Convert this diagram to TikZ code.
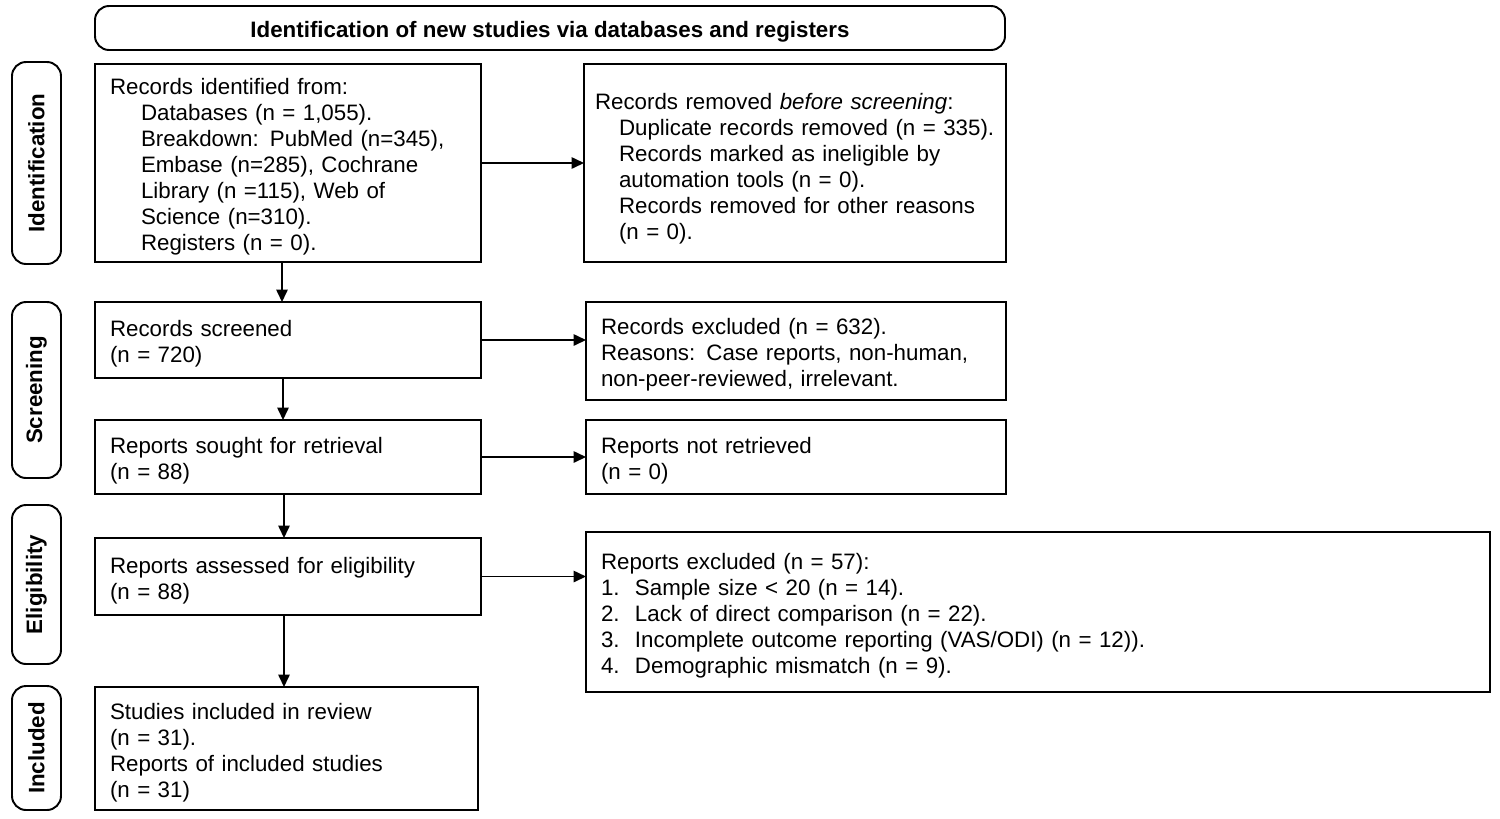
\documentclass[tikz,border=0pt]{standalone}
\usepackage{fontspec}
\setmainfont{Liberation Sans}
\usetikzlibrary{arrows.meta}

\begin{document}
\begin{tikzpicture}[font=\fontsize{12.7}{14.8}\selectfont,
      box/.style={draw, line width=1.1pt, align=left, inner xsep=0.3cm,
                  inner ysep=0pt, outer sep=0pt,
                  execute at begin node={\rule{0pt}{0.49cm}}},
      phase/.style={draw, line width=1.1pt, rounded corners=8pt, rotate=90,
                  minimum height=0.98cm, inner sep=0pt,
                  font=\fontsize{12.7}{14.8}\selectfont\bfseries},
      arr/.style={-{Triangle[length=0.25cm, width=0.23cm]}, line width=0.9pt}]
  \useasboundingbox (0,0) rectangle (30,-16.36);
  % header
  \node[draw, line width=1.1pt, rounded corners=8pt, minimum width=18.2cm,
        minimum height=0.88cm, text height=0.44cm, text depth=0.08cm,
        font=\fontsize{12.7}{14.8}\selectfont\bfseries]
    (head) at (11.0,-0.56) {Identification of new studies via databases and registers};
  % phases
  \node[phase, minimum width=4.04cm] (ph-id)  at (0.73,-3.26)  {Identification};
  \node[phase, minimum width=3.52cm] (ph-scr) at (0.73,-7.80)  {Screening};
  \node[phase, minimum width=3.18cm] (ph-eli) at (0.73,-11.69) {Eligibility};
  \node[phase, minimum width=2.48cm] (ph-inc) at (0.73,-14.96) {Included};
  % main column
  \node[box, text width=7.12cm, minimum height=3.96cm] (recid) at (5.76,-3.26)
    {Records identified from:\\
     \hspace*{0.62cm}Databases (n = 1,055).\\
     \hspace*{0.62cm}Breakdown: PubMed (n=345),\\
     \hspace*{0.62cm}Embase (n=285), Cochrane\\
     \hspace*{0.62cm}Library (n =115), Web of\\
     \hspace*{0.62cm}Science (n=310).\\
     \hspace*{0.62cm}Registers (n = 0).};
  \node[box, text width=7.12cm, minimum height=1.52cm] (screened) at (5.76,-6.80)
    {Records screened\\(n = 720)};
  \node[box, text width=7.12cm, minimum height=1.48cm] (sought) at (5.76,-9.14)
    {Reports sought for retrieval\\(n = 88)};
  \node[box, text width=7.12cm, minimum height=1.54cm] (assessed) at (5.76,-11.53)
    {Reports assessed for eligibility\\(n = 88)};
  \node[box, text width=7.06cm, minimum height=2.46cm] (included) at (5.73,-14.97)
    {Studies included in review\\(n = 31).\\Reports of included studies\\(n = 31)};
  % side column
  \node[box, inner xsep=0.22cm, text width=8.0cm, minimum height=3.96cm,
        execute at begin node={\rule{0pt}{0.57cm}}] (removed) at (15.9,-3.26)
    {Records removed \textit{before screening}:\\
     \hspace*{0.48cm}Duplicate records removed (n = 335).\\
     \hspace*{0.48cm}Records marked as ineligible by\\
     \hspace*{0.48cm}automation tools (n = 0).\\
     \hspace*{0.48cm}Records removed for other reasons\\
     \hspace*{0.48cm}(n = 0).};
  \node[box, text width=7.8cm, minimum height=1.96cm] (excluded) at (15.92,-7.02)
    {Records excluded (n = 632).\\
     Reasons: Case reports, non-human,\\
     non-peer-reviewed, irrelevant.};
  \node[box, text width=7.8cm, minimum height=1.48cm] (notretr) at (15.92,-9.14)
    {Reports not retrieved\\(n = 0)};
  \node[box, text width=17.48cm, minimum height=3.2cm] (repexcl) at (20.76,-12.24)
    {Reports excluded (n = 57):\\
     \makebox[0.68cm][l]{1.}Sample size < 20 (n = 14).\\
     \makebox[0.68cm][l]{2.}Lack of direct comparison (n = 22).\\
     \makebox[0.68cm][l]{3.}Incomplete outcome reporting (VAS/ODI) (n = 12)).\\
     \makebox[0.68cm][l]{4.}Demographic mismatch (n = 9).};
  % arrows
  \draw[arr] ([xshift=-0.12cm]recid.south) -- ([xshift=-0.12cm]screened.north);
  \draw[arr] ([xshift=-0.1cm]screened.south) -- ([xshift=-0.1cm]sought.north);
  \draw[arr] ([xshift=-0.08cm]sought.south) -- ([xshift=-0.08cm]assessed.north);
  \draw[arr] ([xshift=-0.08cm]assessed.south) -- ([xshift=-0.05cm]included.north);
  \draw[arr] (recid) -- (removed);
  \draw[arr] (screened.east) -- (screened.east -| excluded.west);
  \draw[arr] (sought) -- (notretr);
  \draw[arr] (assessed.east) -- (assessed.east -| repexcl.west);
\end{tikzpicture}
\end{document}
